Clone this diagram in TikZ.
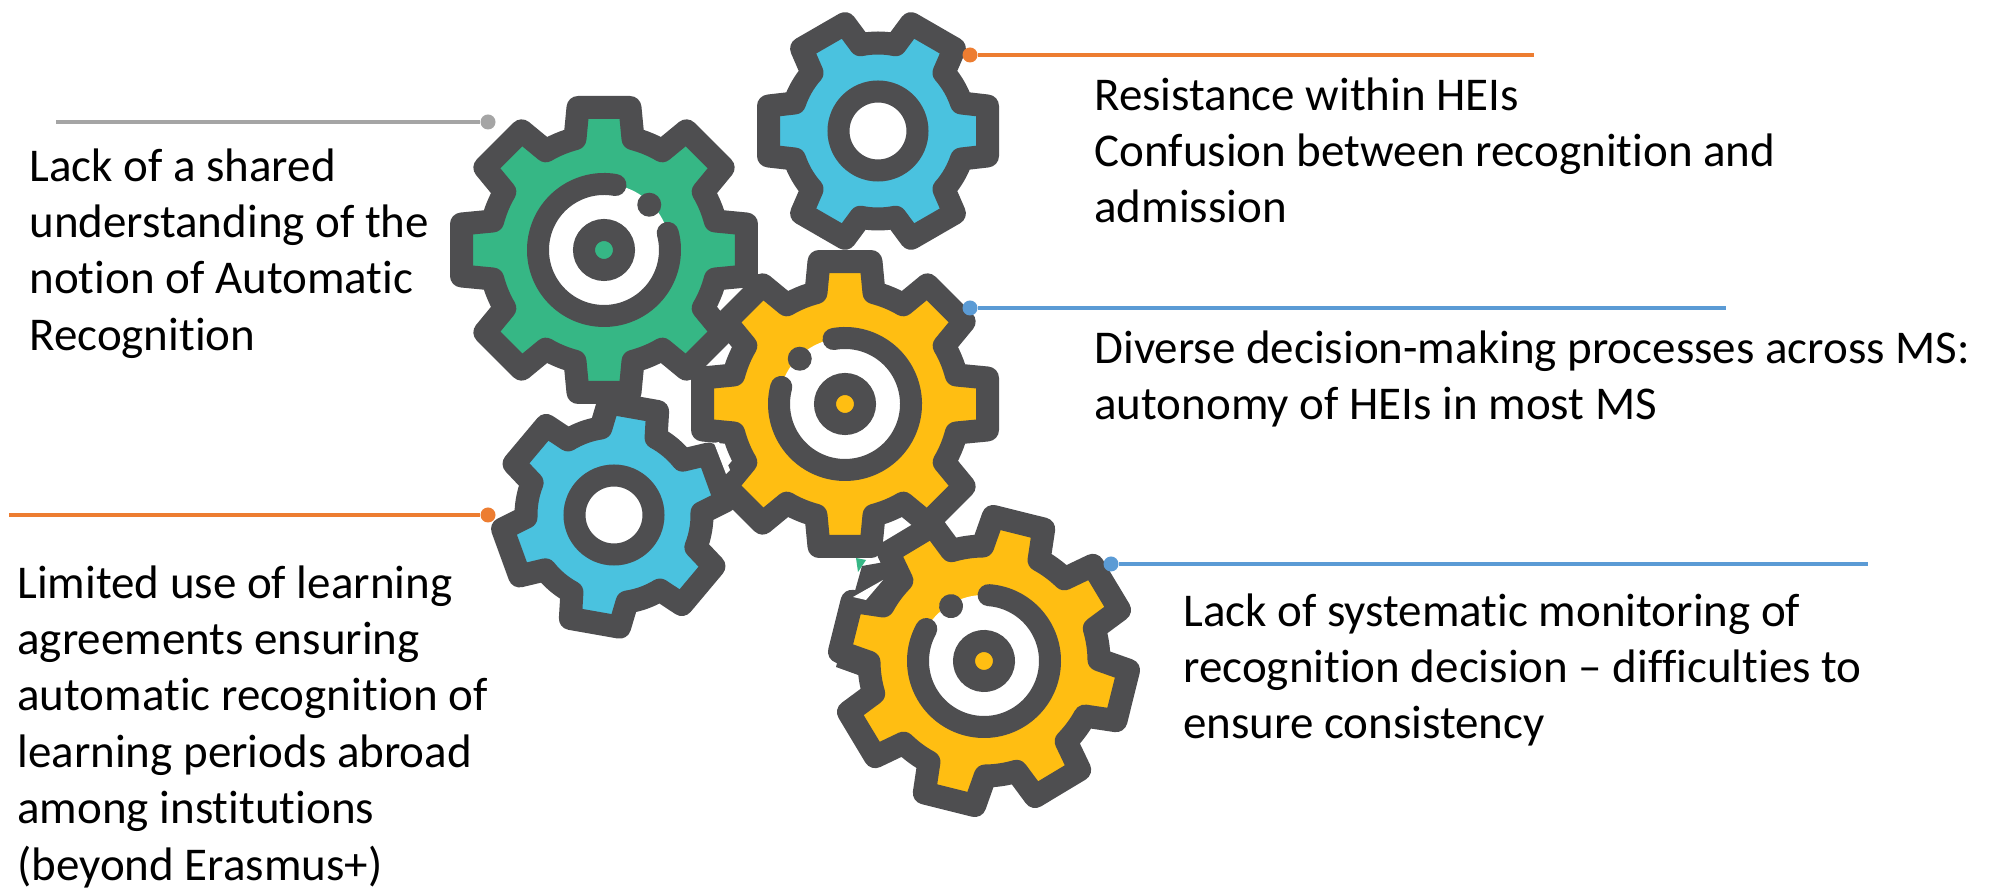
\documentclass[tikz,border=0pt]{standalone}
\usepackage{fontspec}
\setmainfont[Ligatures=NoCommon]{Carlito}
\definecolor{gdark}{HTML}{4E4E50}
\definecolor{ggreen}{HTML}{36B785}
\definecolor{gblue}{HTML}{4AC2DF}
\definecolor{gyellow}{HTML}{FFBE12}
\definecolor{lorange}{HTML}{ED7D31}
\definecolor{lblue}{HTML}{5B9BD5}
\definecolor{lgray}{HTML}{A5A5A5}
\tikzset{
  gearbody/.style={draw=gdark,line width=11.5pt,line join=round},
  gearline/.style={draw=gdark,line width=11pt,line cap=round},
  label/.style={anchor=north west,inner sep=0pt,align=left,font=\fontsize{23.5}{28.2}\selectfont,text=black},
  leader/.style={line width=1.6pt},
  dotnode/.style={circle,fill=#1,inner sep=0pt,minimum size=7.5pt},
}
% #1 cx, #2 y from top, #3 rotation, #4 teeth, #5 root R, #6 tip R, #7 half width, #8 colour
\newcommand{\gearshape}[8]{%
  \pgfmathsetmacro\aT{atan(#7/#6)}%
  \pgfmathsetmacro\aR{asin((#7+3)/#5)}%
  \pgfmathsetmacro\rT{veclen(#6,#7)}%
  \pgfmathsetmacro\st{360/#4}%
  \begin{scope}[shift={(#1,889-#2)},rotate=#3]
  \path[gearbody,fill=#8] (-\aR:#5)
    \foreach \k in {1,...,#4} {
      -- ({(\k-1)*\st-\aT}:\rT) -- ({(\k-1)*\st+\aT}:\rT) -- ({(\k-1)*\st+\aR}:#5)
      arc[start angle={(\k-1)*\st+\aR},end angle={\k*\st-\aR},radius=#5]
    } -- cycle;
  \end{scope}}
\newcommand{\bluegear}[3]{%
  \gearshape{#1}{#2}{#3}{6}{88}{109.5}{25}{gblue}
  \draw[gearline,fill=white] (#1,889-#2) circle[radius=39.5];}
% #4 = +1 green form, -1 mirrored yellow form
\newcommand{\biggear}[5]{%
  \gearshape{#1}{#2}{#3}{8}{115}{142.5}{26}{#5}
  \begin{scope}[shift={(#1,889-#2)},rotate=#3,xscale=#4]
    \fill[white] (0,0) circle[radius=66];
    \draw[gearline] (80:66) arc[start angle=80,end angle=375,radius=66];
    \fill[gdark] (45:64) circle[radius=12];
    \draw[gearline,fill=#5] (0,0) circle[radius=20];
  \end{scope}}
\begin{document}
\begin{tikzpicture}[x=0.5pt,y=0.5pt]
\useasboundingbox (0,0) rectangle (1993,889);
\fill[white] (0,0) rectangle (1993,889);

\biggear{604}{250}{0}{1}{ggreen}
\bluegear{878}{131}{0}
\bluegear{614}{515}{20}
\biggear{845}{404}{0}{-1}{gyellow}
% dark sliver and remnant behind the lower gear
\fill[ggreen] (856,889-558) -- (866,889-560) -- (858,889-572) -- cycle;
\fill[gdark] (853,889-598) -- (836,889-667) -- (872,889-680) -- (905,889-590) -- (896,889-560) -- (862,889-566) -- cycle;
\biggear{984}{661}{-14}{-1}{gyellow}
\fill[white] (853,889-597) -- (883,889-580) -- (866,889-600) -- cycle;
\fill[white] (883,889-541) -- (890,889-528) -- (905,889-524) -- (893,889-535) -- cycle;
\fill[white] (714,889-443) -- (719,889-442) -- (730,889-470) -- (726,889-474) -- cycle;

\node[dotnode=lgray] (d1) at (488,889-122) {};
\coordinate (e1) at (56,889-122);
\draw[leader,lgray] (e1) -- (d1);
\node[dotnode=lorange] (d2) at (488,889-515) {};
\coordinate (e2) at (9,889-515);
\draw[leader,lorange] (e2) -- (d2);
\node[dotnode=lorange] (d3) at (970,889-55) {};
\coordinate (e3) at (1534,889-55);
\draw[leader,lorange] (d3) -- (e3);
\node[dotnode=lblue] (d4) at (970,889-308) {};
\coordinate (e4) at (1726,889-308);
\draw[leader,lblue] (d4) -- (e4);
\node[dotnode=lblue] (d5) at (1111,889-564) {};
\coordinate (e5) at (1868,889-564);
\draw[leader,lblue] (d5) -- (e5);

\node[label] (t1) at (29,889-148) {Lack of a shared\\understanding of the\\notion of Automatic\\Recognition};
\node[label] (t2) at (17,889-565) {Limited use of learning\\agreements ensuring\\automatic recognition of\\learning periods abroad\\among institutions\\(beyond Erasmus+)};
\node[label] (t3) at (1094,889-77) {Resistance within HEIs\\Confusion between recognition and\\admission};
\node[label] (t4) at (1094,889-330) {Diverse decision-making processes across MS:\\autonomy of HEIs in most MS};
\node[label] (t5) at (1183,889-593) {Lack of systematic monitoring of\\recognition decision -- difficulties to\\ensure consistency};
\end{tikzpicture}
\end{document}
